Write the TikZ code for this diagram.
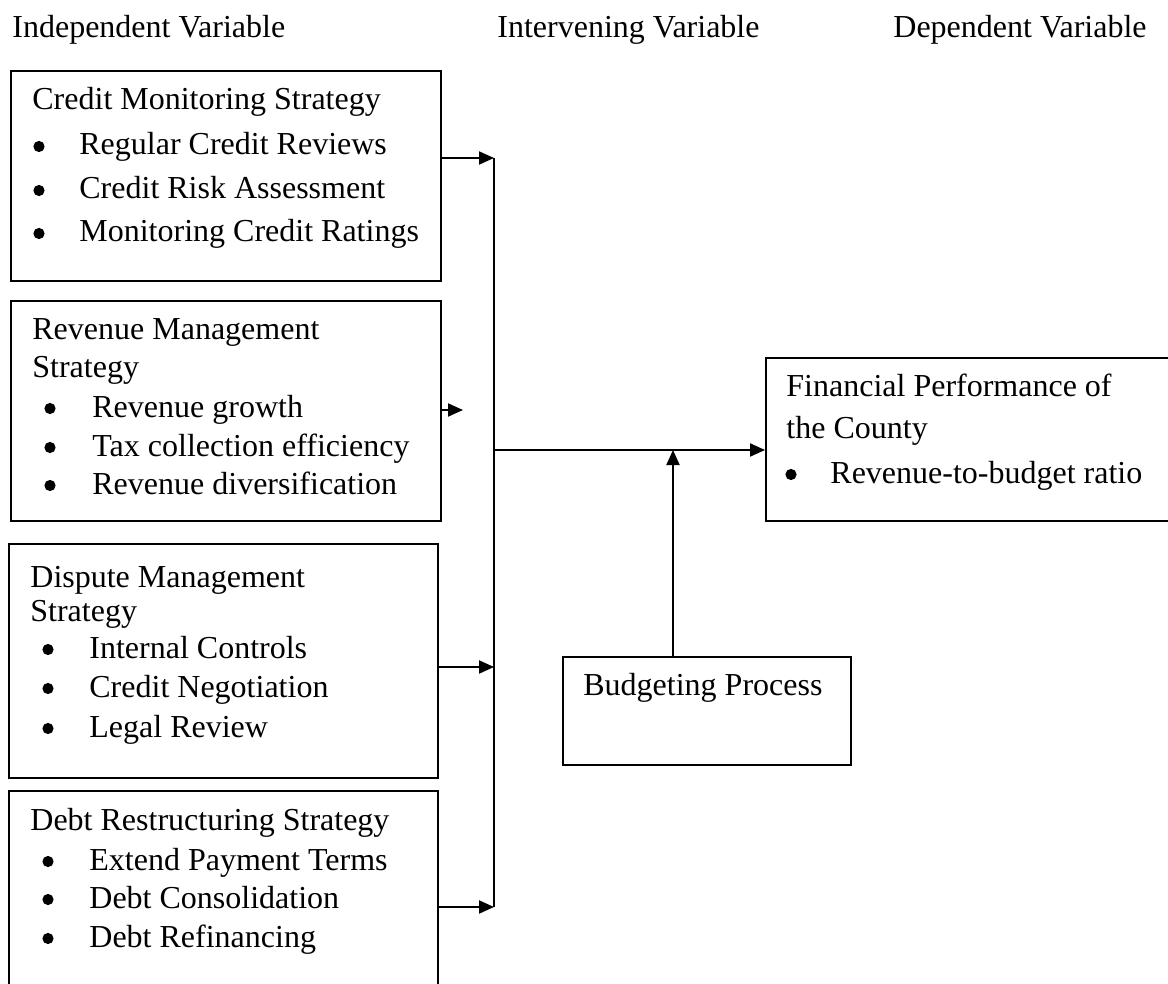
\documentclass[tikz,border=0pt]{standalone}
\usepackage{fontspec}
\setmainfont{Liberation Serif}
\usetikzlibrary{arrows.meta}
\begin{document}
\begin{tikzpicture}[x=0.5pt,y=-0.5pt,
  box/.style={draw,line width=1pt,inner sep=0pt,anchor=north west},
  txt/.style={anchor=base west,inner sep=0pt,font=\fontsize{16}{19}\selectfont},
  dot/.style={circle,fill=black,inner sep=0pt,minimum size=5.6pt},
  arr/.style={line width=1pt,-{Triangle[length=7.5pt,width=6.5pt]}},
  ln/.style={line width=1pt}]
\clip (0,0) rectangle (1168,984);
% headers
\node[txt] (h1) at (12,38) {Independent Variable};
\node[txt] (h2) at (497,38) {Intervening Variable};
\node[txt] (h3) at (893,38) {Dependent Variable};
% box 1
\node[box,minimum width=215pt,minimum height=105pt] (b1) at (10,70) {};
\node[txt] (b1t) at (32,110) {Credit Monitoring Strategy};
\node[dot] (b1a) at (39,146.5) {};
\node[txt] (b1at) at (79,155) {Regular Credit Reviews};
\node[dot] (b1b) at (39,190.5) {};
\node[txt] (b1bt) at (79,199) {Credit Risk Assessment};
\node[dot] (b1c) at (39,233.5) {};
\node[txt] (b1ct) at (79,242) {Monitoring Credit Ratings};
% box 2
\node[box,minimum width=215pt,minimum height=110pt] (b2) at (10,300) {};
\node[txt] (b2t) at (32,340) {Revenue Management};
\node[txt] (b2u) at (32,378) {Strategy};
\node[dot] (b2a) at (50,408.5) {};
\node[txt] (b2at) at (92,417) {Revenue growth};
\node[dot] (b2b) at (50,447.5) {};
\node[txt] (b2bt) at (92,456) {Tax collection efficiency};
\node[dot] (b2c) at (50,485.5) {};
\node[txt] (b2ct) at (92,494) {Revenue diversification};
% box 3
\node[box,minimum width=214.5pt,minimum height=117pt] (b3) at (8,543) {};
\node[txt] (b3t) at (30,587) {Dispute Management};
\node[txt] (b3u) at (30,621) {Strategy};
\node[dot] (b3a) at (48,649.5) {};
\node[txt] (b3at) at (89,658) {Internal Controls};
\node[dot] (b3b) at (48,688.5) {};
\node[txt] (b3bt) at (89,697) {Credit Negotiation};
\node[dot] (b3c) at (48,728.5) {};
\node[txt] (b3ct) at (89,737) {Legal Review};
% box 4
\node[box,minimum width=214.5pt,minimum height=110pt] (b4) at (8,790) {};
\node[txt] (b4t) at (30,830) {Debt Restructuring Strategy};
\node[dot] (b4a) at (48,861.5) {};
\node[txt] (b4at) at (89,870) {Extend Payment Terms};
\node[dot] (b4b) at (48,899.5) {};
\node[txt] (b4bt) at (89,908) {Debt Consolidation};
\node[dot] (b4c) at (48,938.5) {};
\node[txt] (b4ct) at (89,947) {Debt Refinancing};
% financial performance box
\node[box,minimum width=207.5pt,minimum height=81.5pt] (fin) at (765,357) {};
\node[txt] (fint) at (786,397) {Financial Performance of};
\node[txt] (finu) at (786,438) {the County};
\node[dot] (fina) at (791,474.5) {};
\node[txt] (finat) at (830,483) {Revenue-to-budget ratio};
% budgeting box
\node[box,minimum width=144pt,minimum height=54pt] (bud) at (562,656) {};
\node[txt] (budt) at (583,695) {Budgeting Process};
% junction coordinates
\coordinate (j1) at (494,158);
\coordinate (j3) at (494,667);
\coordinate (j4) at (494,907);
\coordinate (r2) at (463,410);
\coordinate (jm) at (494,450);
\coordinate (bt) at (673,656);
% connectors
\draw[ln] (j1) -- (j4);
\draw[arr] (b1.east |- j1) -- (j1);
\draw[arr] (b2.east |- r2) -- (r2);
\draw[arr] (b3.east |- j3) -- (j3);
\draw[arr] (b4.east |- j4) -- (j4);
\draw[arr] (jm) -- (fin.west |- jm);
\draw[arr] (bt) -- (bt |- jm);
\end{tikzpicture}
\end{document}
